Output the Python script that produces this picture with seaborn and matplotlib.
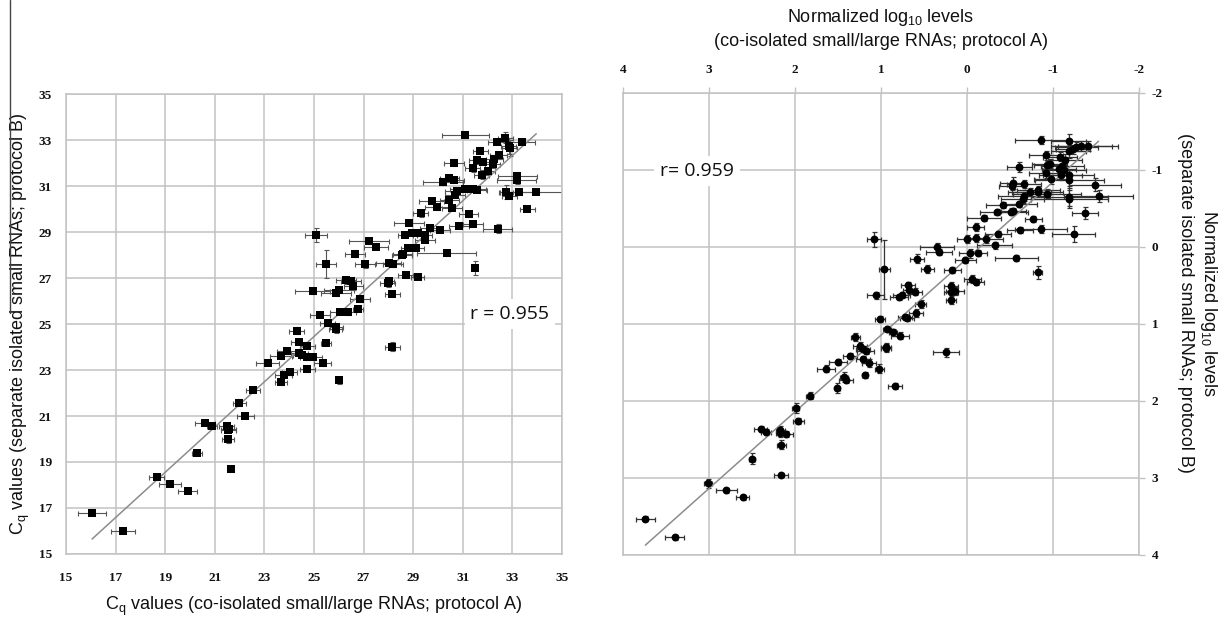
import numpy as np
import matplotlib
matplotlib.use("Agg")
import matplotlib.pyplot as plt
import seaborn as sns
from matplotlib.lines import Line2D

# ---------------- Left panel data (Cq values) ----------------
left_x = [16.05, 17.30, 18.65, 19.18, 19.90, 20.30, 20.60, 20.90, 21.48, 21.56,
          21.55, 21.53, 21.64, 21.99, 22.23, 22.54, 23.13, 23.66, 23.67, 23.78,
          23.90, 24.02, 24.41, 24.50, 24.73, 24.73, 24.97, 24.73, 24.41, 24.30,
          25.48, 25.35, 26.02, 28.15, 25.07, 27.22, 27.50, 26.64, 28.56, 25.50,
          27.07, 28.01, 28.17, 26.29, 26.50, 26.59, 26.00, 25.90, 24.95, 28.01,
          27.98, 28.70, 29.18, 28.16, 26.85, 26.76, 26.38, 26.06, 25.25, 25.55,
          25.87, 25.90,
          31.10, 32.71, 32.37, 32.85, 32.90, 33.40, 31.70, 32.45, 32.27, 31.56,
          31.83, 30.63, 32.20, 31.40, 32.00, 31.77, 33.20, 33.17, 30.21, 30.46,
          30.65, 31.10, 31.42, 31.57, 30.78, 30.70, 32.74, 32.88, 33.28, 33.96,
          30.46, 29.75, 30.56, 29.97, 29.30, 33.60, 31.23, 28.84, 29.66, 30.07,
          30.85, 31.41, 32.40, 28.68, 28.95, 29.20, 29.46, 28.57, 28.80, 29.12,
          29.47, 30.35, 31.48]
left_y = [16.80, 16.00, 18.33, 18.03, 17.73, 19.38, 20.68, 20.57, 20.58, 20.45,
          20.38, 19.99, 18.70, 21.57, 21.01, 22.13, 23.32, 23.60, 22.48, 22.80,
          23.81, 22.90, 23.72, 23.65, 23.03, 23.55, 23.55, 24.04, 24.23, 24.70,
          24.19, 23.29, 22.55, 24.01, 28.88, 28.60, 28.36, 28.06, 28.01, 27.60,
          27.60, 27.65, 27.60, 26.91, 26.87, 26.65, 26.48, 26.33, 26.42, 26.88,
          26.77, 27.13, 27.04, 26.30, 26.07, 25.67, 25.51, 25.52, 25.40, 25.04,
          24.78, 24.88,
          33.20, 33.10, 32.91, 32.75, 32.64, 32.91, 32.54, 32.33, 32.19, 32.12,
          32.06, 32.01, 31.95, 31.77, 31.65, 31.49, 31.45, 31.25, 31.16, 31.36,
          31.26, 30.88, 30.88, 30.82, 30.80, 30.62, 30.74, 30.57, 30.74, 30.75,
          30.41, 30.36, 30.06, 30.07, 29.81, 30.01, 29.77, 29.40, 29.17, 29.09,
          29.27, 29.35, 29.14, 28.88, 28.97, 28.94, 28.87, 28.04, 28.30, 28.30,
          28.65, 28.07, 27.45]
left_xerr = [0.55, 0.50, 0.30, 0.45, 0.40, 0.20, 0.40, 0.20, 0.30, 0.30,
             0.30, 0.25, 0.05, 0.25, 0.35, 0.30, 0.45, 0.45, 0.25, 0.35,
             0.40, 0.30, 0.35, 0.35, 0.30, 0.30, 0.35, 0.30, 0.35, 0.30,
             0.20, 0.35, 0.05, 0.30, 0.45, 0.80, 0.50, 0.40, 0.40, 0.40,
             0.40, 0.50, 0.40, 0.40, 0.40, 0.40, 0.60, 0.60, 0.70, 0.20,
             0.30, 0.30, 0.25, 0.30, 0.40, 0.20, 0.30, 0.40, 0.40, 0.30,
             0.25, 0.25,
             0.95, 0.30, 0.35, 0.30, 0.30, 0.50, 0.30, 0.35, 0.35, 0.30,
             0.30, 0.40, 0.30, 0.30, 0.30, 0.30, 0.80, 0.80, 0.80, 0.40,
             0.40, 0.60, 0.50, 0.40, 0.50, 0.40, 0.30, 0.30, 0.80, 1.20,
             0.40, 0.50, 0.40, 0.50, 0.30, 0.30, 0.40, 0.60, 0.40, 0.40,
             0.40, 0.40, 0.60, 0.30, 0.30, 0.30, 0.30, 0.40, 0.30, 0.30,
             0.40, 1.20, 0.10]
left_yerr = [0.08, 0.08, 0.10, 0.08, 0.08, 0.08, 0.08, 0.08, 0.10, 0.10,
             0.10, 0.15, 0.05, 0.15, 0.10, 0.08, 0.10, 0.10, 0.15, 0.10,
             0.10, 0.10, 0.10, 0.10, 0.10, 0.10, 0.10, 0.10, 0.10, 0.15,
             0.10, 0.10, 0.15, 0.20, 0.30, 0.10, 0.10, 0.15, 0.10, 0.60,
             0.15, 0.10, 0.10, 0.15, 0.15, 0.15, 0.10, 0.10, 0.10, 0.10,
             0.15, 0.15, 0.10, 0.10, 0.10, 0.10, 0.10, 0.10, 0.10, 0.10,
             0.15, 0.10,
             0.10, 0.25, 0.10, 0.35, 0.35, 0.10, 0.15, 0.15, 0.15, 0.15,
             0.15, 0.15, 0.15, 0.15, 0.15, 0.20, 0.15, 0.15, 0.10, 0.10,
             0.10, 0.10, 0.10, 0.10, 0.10, 0.10, 0.30, 0.10, 0.10, 0.10,
             0.10, 0.10, 0.10, 0.10, 0.15, 0.10, 0.10, 0.10, 0.10, 0.10,
             0.10, 0.10, 0.20, 0.10, 0.10, 0.10, 0.10, 0.10, 0.10, 0.10,
             0.10, 0.10, 0.30]
left_ticks = [15, 17, 19, 21, 23, 25, 27, 29, 31, 33, 35]
left_r_text = "r = 0.955"
left_xlabel = "C$_q$ values (co-isolated small/large RNAs; protocol A)"
left_ylabel = "C$_q$ values (separate isolated small RNAs; protocol B)"

# ---------------- Right panel data (normalized log10 levels) ----------------
right_x = [3.74, 3.40, 3.01, 2.80, 2.61, 2.50, 2.16, 2.16, 2.40, 2.34,
           2.17, 2.10, 2.17, 1.96, 1.99, 1.83, 1.64, 1.51, 1.43, 1.41,
           1.50, 1.36, 1.24, 1.18, 1.21, 1.14, 1.19, 1.02, 0.94, 0.84,
           1.08, 0.96, 0.58, 0.46, 0.35, 0.33, 1.06, 0.79, 0.76, 0.69,
           0.67, 0.60, 1.01, 0.93, 0.86, 0.78, 0.94, 1.21, 0.72, 0.70,
           0.59, 0.54, 0.19, 0.19, 0.19, 0.14, 0.17, 0.24, 0.02, -0.03,
           -0.13, -0.06, -0.10, 0.00, -0.11, -0.10, -0.22, -0.32, -0.36, -0.20,
           -0.35, -0.42, -0.51, -0.54, -0.61, -0.57, -0.62, -0.77, -0.86, -0.82,
           -1.24, -1.37, -0.53, -0.61, -0.52, -0.66, -0.66, -0.65, -0.73, -0.82,
           -0.83, -0.93, -0.86, -0.92, -0.93, -0.96, -0.92, -0.98, -1.09, -1.11,
           -1.14, -1.18, -1.18, -1.23, -1.27, -1.33, -1.19, -1.19, -1.19, -1.08,
           -1.07, -1.13, -1.41, -1.49, -1.53, -1.18, 1.30]
right_y = [3.53, 3.77, 3.07, 3.16, 3.25, 2.75, 2.96, 2.57, 2.36, 2.40,
           2.38, 2.43, 2.42, 2.26, 2.09, 1.93, 1.58, 1.83, 1.69, 1.73,
           1.49, 1.42, 1.29, 1.35, 1.46, 1.51, 1.66, 1.58, 1.30, 1.81,
           -0.10, 0.29, 0.15, 0.29, 0.00, 0.06, 0.63, 0.65, 0.62, 0.50,
           0.56, 0.58, 0.94, 1.06, 1.11, 1.15, 1.31, 1.32, 0.91, 0.92,
           0.86, 0.74, 0.69, 0.58, 0.51, 0.57, 0.30, 1.37, 0.17, 0.08,
           0.08, 0.42, 0.45, -0.10, -0.12, -0.26, -0.10, -0.02, -0.17, -0.38,
           -0.45, -0.55, -0.46, -0.47, -0.56, 0.14, -0.22, -0.36, -0.23, 0.33,
           -0.17, -0.44, -0.83, -1.04, -0.79, -0.82, -0.66, -0.62, -0.71, -0.71,
           -0.74, -0.69, -1.39, -1.19, -1.06, -1.08, -0.96, -0.88, -0.93, -1.05,
           -1.13, -1.24, -1.37, -1.27, -1.30, -1.31, -0.87, -0.65, -0.62, -1.17,
           -1.01, -1.00, -1.31, -0.81, -0.66, -0.94, 1.17]
right_xerr = [0.11, 0.11, 0.05, 0.12, 0.08, 0.03, 0.08, 0.05, 0.08, 0.06,
              0.05, 0.08, 0.05, 0.06, 0.04, 0.04, 0.10, 0.03, 0.05, 0.08,
              0.10, 0.08, 0.08, 0.10, 0.08, 0.08, 0.03, 0.05, 0.06, 0.08,
              0.08, 0.06, 0.08, 0.08, 0.20, 0.15, 0.10, 0.10, 0.10, 0.08,
              0.08, 0.08, 0.06, 0.05, 0.05, 0.10, 0.06, 0.08, 0.08, 0.08,
              0.08, 0.06, 0.06, 0.08, 0.08, 0.10, 0.10, 0.15, 0.12, 0.12,
              0.10, 0.10, 0.10, 0.12, 0.12, 0.10, 0.20, 0.20, 0.15, 0.20,
              0.20, 0.20, 0.20, 0.15, 0.20, 0.25, 0.15, 0.10, 0.30, 0.05,
              0.25, 0.15, 0.15, 0.15, 0.15, 0.20, 0.30, 0.25, 0.25, 0.30,
              0.25, 0.40, 0.30, 0.20, 0.15, 0.20, 0.20, 0.20, 0.25, 0.25,
              0.20, 0.20, 0.20, 0.20, 0.25, 0.35, 0.40, 0.45, 0.45, 0.20,
              0.20, 0.25, 0.35, 0.30, 0.40, 0.30, 0.05]
right_yerr = [0.03, 0.03, 0.06, 0.03, 0.03, 0.07, 0.03, 0.06, 0.04, 0.04,
              0.05, 0.04, 0.05, 0.04, 0.07, 0.05, 0.05, 0.06, 0.07, 0.04,
              0.04, 0.04, 0.05, 0.04, 0.05, 0.05, 0.04, 0.06, 0.05, 0.04,
              0.10, 0.38, 0.06, 0.05, 0.05, 0.04, 0.04, 0.04, 0.04, 0.05,
              0.05, 0.05, 0.04, 0.04, 0.04, 0.04, 0.05, 0.04, 0.04, 0.04,
              0.05, 0.05, 0.05, 0.08, 0.05, 0.05, 0.04, 0.06, 0.04, 0.06,
              0.04, 0.05, 0.04, 0.05, 0.05, 0.05, 0.05, 0.05, 0.04, 0.04,
              0.04, 0.04, 0.04, 0.04, 0.04, 0.04, 0.04, 0.04, 0.05, 0.08,
              0.10, 0.08, 0.08, 0.06, 0.05, 0.05, 0.06, 0.05, 0.05, 0.05,
              0.05, 0.06, 0.05, 0.06, 0.06, 0.06, 0.06, 0.06, 0.06, 0.06,
              0.08, 0.08, 0.10, 0.06, 0.06, 0.06, 0.08, 0.12, 0.12, 0.06,
              0.06, 0.06, 0.06, 0.08, 0.08, 0.06, 0.05]
right_ticks = [4, 3, 2, 1, 0, -1, -2]
right_r_text = "r= 0.959"
right_xlabel = "Normalized log$_{10}$ levels\n(co-isolated small/large RNAs; protocol A)"
right_ylabel = "Normalized log$_{10}$ levels\n(separate isolated small RNAs; protocol B)"

# ---------------- Styling ----------------
sns.set_style("white")
plt.rcParams['font.family'] = ['Liberation Sans', 'DejaVu Sans']
plt.rcParams['mathtext.default'] = 'regular'
plt.rcParams['text.color'] = '#111111'
plt.rcParams['axes.labelcolor'] = '#111111'

GRID = '#c2c2c2'
TICKFONT = dict(family='Liberation Serif', weight='bold', size=9.5, color='#111111')

fig = plt.figure(figsize=(12.29, 6.21), dpi=100)
fig.patch.set_facecolor('white')
ax1 = fig.add_axes([0.0537, 0.1079, 0.4036, 0.7407])
ax2 = fig.add_axes([0.5069, 0.1063, 0.4199, 0.7440])


def style(ax):
    ax.grid(True, color=GRID, lw=1.1)
    ax.set_axisbelow(True)
    for s in ax.spines.values():
        s.set_visible(True)
        s.set_color(GRID)
        s.set_linewidth(1.1)


# ---- Left panel ----
ax1.errorbar(left_x, left_y, xerr=left_xerr, yerr=left_yerr, fmt='none',
             ecolor='#555555', elinewidth=0.8, capsize=1.8, capthick=0.8, zorder=2)
sns.regplot(x=np.array(left_x), y=np.array(left_y), ax=ax1, scatter=False, ci=None,
            truncate=True, color='#8c8c8c', line_kws=dict(lw=1.1, zorder=2.5))
sns.scatterplot(x=left_x, y=left_y, ax=ax1, marker='s', color='black', s=36,
                linewidth=0, zorder=3)
ax1.set_xlim(left_ticks[0], left_ticks[-1])
ax1.set_ylim(left_ticks[0], left_ticks[-1])
style(ax1)
ax1.set_xticks(left_ticks)
ax1.set_yticks(left_ticks)
ax1.set_xticklabels([str(t) for t in left_ticks], fontdict=TICKFONT)
ax1.set_yticklabels([str(t) for t in left_ticks], fontdict=TICKFONT)
ax1.tick_params(axis='both', length=4, width=1.0, color=GRID)
ax1.tick_params(axis='x', pad=9)
ax1.tick_params(axis='y', pad=6)
ax1.set_xlabel(left_xlabel, fontsize=13)
ax1.set_ylabel(left_ylabel, fontsize=13)
ax1.xaxis.set_label_coords(0.5, -0.115)
ax1.xaxis.label.set_va('center')
ax1.yaxis.set_label_coords(-0.091, 0.5)
ax1.yaxis.label.set_va('center')
ax1.text(32.9, 25.43, left_r_text, fontsize=14, family='Open Sans', ha='center',
         va='center', zorder=4,
         bbox=dict(boxstyle='square,pad=0.3', facecolor='white', edgecolor='none'))

# ---- Right panel ----
ax2.errorbar(right_x, right_y, xerr=right_xerr, yerr=right_yerr, fmt='none',
             ecolor='#333333', elinewidth=0.9, capsize=1.8, capthick=0.9, zorder=2)
sns.regplot(x=np.array(right_x), y=np.array(right_y), ax=ax2, scatter=False, ci=None,
            truncate=True, color='#8c8c8c', line_kws=dict(lw=1.1, zorder=2.5))
sns.scatterplot(x=right_x, y=right_y, ax=ax2, marker='o', color='black', s=32,
                linewidth=0, zorder=3)
ax2.set_xlim(right_ticks[0], right_ticks[-1])
ax2.set_ylim(right_ticks[0], right_ticks[-1])
style(ax2)
ax2.xaxis.tick_top()
ax2.xaxis.set_label_position('top')
ax2.yaxis.tick_right()
ax2.yaxis.set_label_position('right')
ax2.set_xticks(right_ticks)
ax2.set_yticks(right_ticks)
ax2.set_xticklabels([str(t) for t in right_ticks], fontdict=TICKFONT)
ax2.set_yticklabels([str(t) for t in right_ticks], fontdict=TICKFONT)
ax2.tick_params(axis='both', length=4, width=1.0, color=GRID)
ax2.tick_params(axis='x', pad=8)
ax2.tick_params(axis='y', pad=5)
ax2.set_xlabel(right_xlabel, fontsize=13, linespacing=1.35)
ax2.xaxis.set_label_coords(0.5, 1.14)
ax2.xaxis.label.set_va('center')
ax2.set_ylabel(right_ylabel, fontsize=13, rotation=270, linespacing=1.35)
ax2.yaxis.set_label_coords(1.114, 0.545)
ax2.yaxis.label.set_va('center')
ax2.yaxis.label.set_ha('center')
ax2.text(3.14, -0.99, right_r_text, fontsize=14, family='Open Sans', ha='center',
         va='center', zorder=4,
         bbox=dict(boxstyle='square,pad=0.3', facecolor='white', edgecolor='none'))

# scan artefact line at the far left of the figure
fig.add_artist(Line2D([9.5 / 1229, 9.5 / 1229], [1.0, 1 - 313 / 621],
                      transform=fig.transFigure, color='#444444', lw=1.0))

fig.savefig("out.png", dpi=100, facecolor='white')
